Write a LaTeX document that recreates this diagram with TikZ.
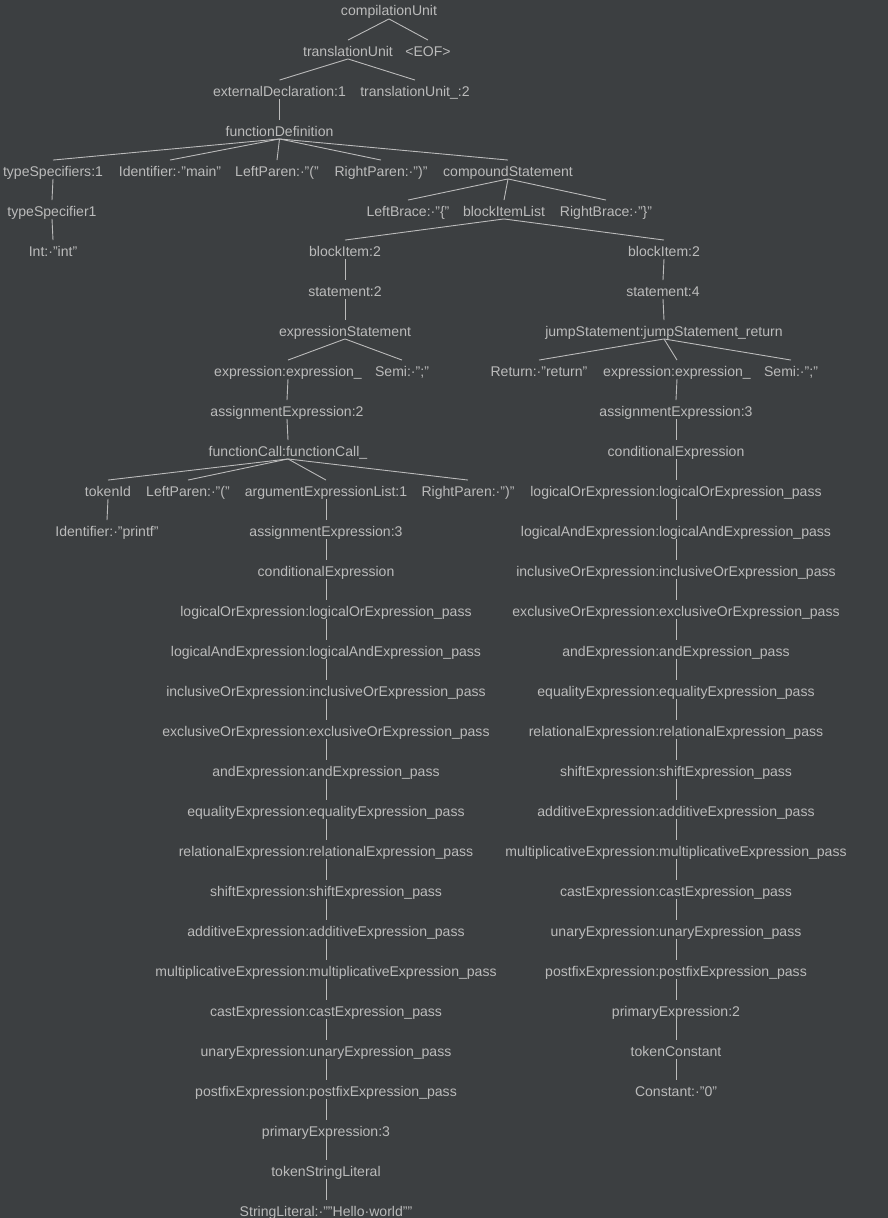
\documentclass[tikz,border=0pt]{standalone}
\usepackage{fontspec}
\setmainfont{Liberation Sans}
\definecolor{treebg}{HTML}{3C3F41}
\definecolor{treefg}{HTML}{BBBBBB}
\begin{document}
\begin{tikzpicture}[x=1pt,y=-1pt,color=treefg,line width=0.9pt,
    ptnode/.style={anchor=base,font=\fontsize{14.05}{16}\selectfont,
      inner xsep=0pt,inner ysep=2.5pt,text height=13pt,text depth=0pt},
    every node/.style={ptnode}]
      \fill[treebg] (0,0) rectangle (888,1218);
      \useasboundingbox (0,0) rectangle (888,1218);
      \node (cu) at (389,16) {compilationUnit};
      \node (tu) at (348,56) {translationUnit};
      \node (eof) at (428,56) {<EOF>};
      \node (ed) at (279.5,96) {externalDeclaration:1};
      \node (tu2) at (415,96) {translationUnit\_:2};
      \node (fd) at (279.5,136) {functionDefinition};
      \node (tss) at (53,176) {typeSpecifiers:1};
      \node (idm) at (170,176) {Identifier:·"main"};
      \node (lp) at (277,176) {LeftParen:·"("};
      \node (rp) at (381,176) {RightParen:·")"};
      \node (cs) at (508,176) {compoundStatement};
      \node (ts1) at (52,216) {typeSpecifier1};
      \node (lb) at (408,216) {LeftBrace:·"\{"};
      \node (bil) at (504,216) {blockItemList};
      \node (rb) at (606,216) {RightBrace:·"\}"};
      \node (int) at (53,256) {Int:·"int"};
      \node (bi1) at (345,256) {blockItem:2};
      \node (bi2) at (664,256) {blockItem:2};
      \node (st2) at (345,296) {statement:2};
      \node (st4) at (663,296) {statement:4};
      \node (es) at (345,336) {expressionStatement};
      \node (js) at (664,336) {jumpStatement:jumpStatement\_return};
      \node (ex1) at (288,376) {expression:expression\_};
      \node (semi1) at (402,376) {Semi:·";"};
      \node (ret) at (539,376) {Return:·"return"};
      \node (ex2) at (677,376) {expression:expression\_};
      \node (semi2) at (791,376) {Semi:·";"};
      \node (ae2) at (287,416) {assignmentExpression:2};
      \node (fc) at (288,456) {functionCall:functionCall\_};
      \node (tid) at (108,496) {tokenId};
      \node (lp2) at (188,496) {LeftParen:·"("};
      \node (ael) at (326,496) {argumentExpressionList:1};
      \node (rp2) at (468,496) {RightParen:·")"};
      \node (idp) at (107,536) {Identifier:·"printf"};
      % left chain, printf argument
      \node (aeL) at (326,536) {assignmentExpression:3};
      \node (ceL) at (326,576) {conditionalExpression};
      \node (loL) at (326,616) {logicalOrExpression:logicalOrExpression\_pass};
      \node (laL) at (326,656) {logicalAndExpression:logicalAndExpression\_pass};
      \node (ioL) at (326,696) {inclusiveOrExpression:inclusiveOrExpression\_pass};
      \node (xoL) at (326,736) {exclusiveOrExpression:exclusiveOrExpression\_pass};
      \node (anL) at (326,776) {andExpression:andExpression\_pass};
      \node (eqL) at (326,816) {equalityExpression:equalityExpression\_pass};
      \node (reL) at (326,856) {relationalExpression:relationalExpression\_pass};
      \node (shL) at (326,896) {shiftExpression:shiftExpression\_pass};
      \node (adL) at (326,936) {additiveExpression:additiveExpression\_pass};
      \node (muL) at (326,976) {multiplicativeExpression:multiplicativeExpression\_pass};
      \node (caL) at (326,1016) {castExpression:castExpression\_pass};
      \node (unL) at (326,1056) {unaryExpression:unaryExpression\_pass};
      \node (poL) at (326,1096) {postfixExpression:postfixExpression\_pass};
      \node (prL) at (326,1136) {primaryExpression:3};
      \node (tsL) at (326,1176) {tokenStringLiteral};
      \node (slL) at (326,1216) {StringLiteral:·""Hello·world""};
      % right chain, return value
      \node (aeR) at (676,416) {assignmentExpression:3};
      \node (ceR) at (676,456) {conditionalExpression};
      \node (loR) at (676,496) {logicalOrExpression:logicalOrExpression\_pass};
      \node (laR) at (676,536) {logicalAndExpression:logicalAndExpression\_pass};
      \node (ioR) at (676,576) {inclusiveOrExpression:inclusiveOrExpression\_pass};
      \node (xoR) at (676,616) {exclusiveOrExpression:exclusiveOrExpression\_pass};
      \node (anR) at (676,656) {andExpression:andExpression\_pass};
      \node (eqR) at (676,696) {equalityExpression:equalityExpression\_pass};
      \node (reR) at (676,736) {relationalExpression:relationalExpression\_pass};
      \node (shR) at (676,776) {shiftExpression:shiftExpression\_pass};
      \node (adR) at (676,816) {additiveExpression:additiveExpression\_pass};
      \node (muR) at (676,856) {multiplicativeExpression:multiplicativeExpression\_pass};
      \node (caR) at (676,896) {castExpression:castExpression\_pass};
      \node (unR) at (676,936) {unaryExpression:unaryExpression\_pass};
      \node (poR) at (676,976) {postfixExpression:postfixExpression\_pass};
      \node (prR) at (676,1016) {primaryExpression:2};
      \node (tcR) at (676,1056) {tokenConstant};
      \node (coR) at (676,1096) {Constant:·"0"};
      \draw (cu.south) -- (tu.north);
      \draw (cu.south) -- (eof.north);
      \draw (tu.south) -- (ed.north);
      \draw (tu.south) -- (tu2.north);
      \draw (ed.south) -- (fd.north);
      \draw (fd.south) -- (tss.north);
      \draw (fd.south) -- (idm.north);
      \draw (fd.south) -- (lp.north);
      \draw (fd.south) -- (rp.north);
      \draw (fd.south) -- (cs.north);
      \draw (tss.south) -- (ts1.north);
      \draw (ts1.south) -- (int.north);
      \draw (cs.south) -- (lb.north);
      \draw (cs.south) -- (bil.north);
      \draw (cs.south) -- (rb.north);
      \draw (bil.south) -- (bi1.north);
      \draw (bil.south) -- (bi2.north);
      \draw (bi1.south) -- (st2.north);
      \draw (st2.south) -- (es.north);
      \draw (es.south) -- (ex1.north);
      \draw (es.south) -- (semi1.north);
      \draw (ex1.south) -- (ae2.north);
      \draw (ae2.south) -- (fc.north);
      \draw (fc.south) -- (tid.north);
      \draw (fc.south) -- (lp2.north);
      \draw (fc.south) -- (ael.north);
      \draw (fc.south) -- (rp2.north);
      \draw (tid.south) -- (idp.north);
      \draw (ael.south) -- (aeL.north);
      \draw (aeL.south) -- (ceL.north);
      \draw (ceL.south) -- (loL.north);
      \draw (loL.south) -- (laL.north);
      \draw (laL.south) -- (ioL.north);
      \draw (ioL.south) -- (xoL.north);
      \draw (xoL.south) -- (anL.north);
      \draw (anL.south) -- (eqL.north);
      \draw (eqL.south) -- (reL.north);
      \draw (reL.south) -- (shL.north);
      \draw (shL.south) -- (adL.north);
      \draw (adL.south) -- (muL.north);
      \draw (muL.south) -- (caL.north);
      \draw (caL.south) -- (unL.north);
      \draw (unL.south) -- (poL.north);
      \draw (poL.south) -- (prL.north);
      \draw (prL.south) -- (tsL.north);
      \draw (tsL.south) -- (slL.north);
      \draw (bi2.south) -- (st4.north);
      \draw (st4.south) -- (js.north);
      \draw (js.south) -- (ret.north);
      \draw (js.south) -- (ex2.north);
      \draw (js.south) -- (semi2.north);
      \draw (ex2.south) -- (aeR.north);
      \draw (aeR.south) -- (ceR.north);
      \draw (ceR.south) -- (loR.north);
      \draw (loR.south) -- (laR.north);
      \draw (laR.south) -- (ioR.north);
      \draw (ioR.south) -- (xoR.north);
      \draw (xoR.south) -- (anR.north);
      \draw (anR.south) -- (eqR.north);
      \draw (eqR.south) -- (reR.north);
      \draw (reR.south) -- (shR.north);
      \draw (shR.south) -- (adR.north);
      \draw (adR.south) -- (muR.north);
      \draw (muR.south) -- (caR.north);
      \draw (caR.south) -- (unR.north);
      \draw (unR.south) -- (poR.north);
      \draw (poR.south) -- (prR.north);
      \draw (prR.south) -- (tcR.north);
      \draw (tcR.south) -- (coR.north);
    \end{tikzpicture}
\end{document}
